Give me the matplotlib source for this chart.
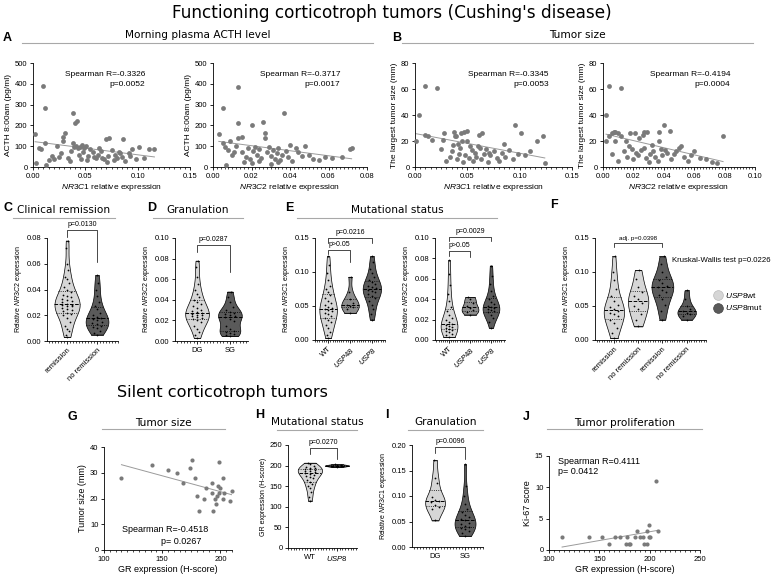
import numpy as np
import matplotlib
matplotlib.use("Agg")
import matplotlib.pyplot as plt
from matplotlib.ticker import MultipleLocator, FormatStrFormatter
from matplotlib.lines import Line2D

plt.rcParams["font.family"] = ["Liberation Sans", "DejaVu Sans"]
plt.rcParams["mathtext.fontset"] = "custom"
plt.rcParams["mathtext.it"] = "Liberation Sans:italic"
plt.rcParams["mathtext.rm"] = "Liberation Sans"

# ---- data ----
# A: NR3C1 / NR3C2 expression vs morning ACTH
a1_x = [0.002, 0.010, 0.011, 0.006, 0.011, 0.029, 0.023, 0.038, 0.040, 0.042, 0.031, 0.029, 0.038,
        0.039, 0.041, 0.043, 0.045, 0.047, 0.049, 0.051, 0.054, 0.070, 0.073, 0.086, 0.095, 0.101, 0.111, 0.116,
        0.008, 0.015, 0.018, 0.020, 0.025, 0.027, 0.033, 0.035, 0.044, 0.046, 0.053, 0.057, 0.060, 0.062, 0.065,
        0.068, 0.072, 0.075, 0.078, 0.080, 0.082, 0.085, 0.088, 0.092, 0.098, 0.003, 0.012, 0.036, 0.058, 0.063,
        0.077, 0.083, 0.093, 0.106, 0.048, 0.052, 0.066, 0.071]
a1_y = [159, 390, 285, 90, 115, 145, 100, 260, 210, 220, 165, 125, 115,
        95, 100, 90, 95, 105, 92, 100, 85, 135, 140, 135, 85, 95, 88, 88,
        85, 35, 55, 40, 50, 65, 45, 30, 60, 40, 55, 70, 45, 60, 75,
        40, 55, 80, 60, 45, 70, 50, 30, 65, 40, 20, 10, 75, 50, 90,
        35, 65, 55, 45, 70, 35, 45, 25]
a2_x = [0.003, 0.005, 0.013, 0.013, 0.020, 0.026, 0.037, 0.013, 0.015, 0.027, 0.027, 0.009, 0.005, 0.040,
        0.043, 0.048, 0.067, 0.071, 0.072, 0.006, 0.008, 0.010, 0.012, 0.015, 0.017, 0.018, 0.019, 0.021, 0.022,
        0.023, 0.024, 0.025, 0.028, 0.029, 0.030, 0.031, 0.032, 0.033, 0.034, 0.035, 0.036, 0.038, 0.039, 0.041,
        0.044, 0.046, 0.050, 0.052, 0.055, 0.058, 0.016, 0.020, 0.024, 0.030, 0.034, 0.011, 0.062, 0.007]
a2_y = [160, 285, 385, 210, 200, 215, 260, 140, 145, 165, 140, 125, 115, 105,
        90, 100, 50, 85, 90, 95, 80, 60, 100, 70, 50, 90, 40, 75, 95,
        60, 85, 45, 70, 95, 55, 80, 40, 65, 90, 35, 60, 75, 50, 30,
        70, 55, 60, 40, 35, 50, 25, 20, 30, 15, 25, 70, 45, 10]

# B: expression vs largest tumor size
b1_x = [0.001, 0.004, 0.010, 0.021, 0.010, 0.012, 0.016, 0.027, 0.028, 0.037, 0.038, 0.039, 0.044, 0.047,
        0.050, 0.045, 0.050, 0.061, 0.064, 0.096, 0.101, 0.117, 0.122, 0.124, 0.030, 0.033, 0.035, 0.040, 0.042,
        0.043, 0.046, 0.048, 0.052, 0.054, 0.055, 0.057, 0.058, 0.060, 0.063, 0.066, 0.068, 0.070, 0.072, 0.075,
        0.078, 0.080, 0.083, 0.086, 0.090, 0.094, 0.098, 0.105, 0.110, 0.025, 0.036, 0.041, 0.053, 0.062, 0.071, 0.085]
b1_y = [20, 40, 62, 61, 25, 24, 21, 21, 26, 27, 24, 24, 26, 27,
        28, 20, 20, 25, 26, 32, 26, 20, 24, 3, 5, 8, 12, 6, 10,
        15, 4, 9, 7, 13, 5, 11, 8, 16, 6, 10, 14, 4, 9, 12,
        7, 5, 11, 8, 13, 6, 10, 9, 12, 14, 17, 18, 16, 15, 11, 18]
b2_x = [0.002, 0.002, 0.004, 0.012, 0.004, 0.006, 0.007, 0.008, 0.010, 0.012, 0.008, 0.015, 0.018, 0.021,
        0.024, 0.026, 0.027, 0.029, 0.037, 0.037, 0.040, 0.044, 0.050, 0.051, 0.079, 0.006, 0.010, 0.014, 0.016,
        0.019, 0.020, 0.022, 0.023, 0.025, 0.028, 0.030, 0.031, 0.033, 0.034, 0.036, 0.038, 0.039, 0.042, 0.045,
        0.047, 0.053, 0.056, 0.060, 0.064, 0.068, 0.072, 0.075, 0.017, 0.027, 0.032, 0.041, 0.048, 0.058]
b2_y = [20, 40, 62, 61, 24, 26, 27, 27, 26, 24, 20, 20, 26, 26,
        22, 25, 27, 27, 27, 20, 32, 28, 15, 16, 24, 10, 5, 12, 8,
        14, 6, 11, 9, 13, 7, 4, 10, 12, 8, 5, 14, 9, 11, 6,
        10, 8, 5, 12, 7, 6, 4, 3, 16, 15, 17, 13, 12, 9]

# C: NR3C2 by clinical remission
c_remission = [0.003, 0.005, 0.008, 0.009, 0.012, 0.015, 0.018, 0.020, 0.021, 0.022, 0.023, 0.024, 0.025,
               0.026, 0.027, 0.027, 0.028, 0.028, 0.029, 0.030, 0.031, 0.032, 0.033, 0.034, 0.035, 0.036,
               0.038, 0.040, 0.042, 0.045, 0.048, 0.050, 0.055, 0.060, 0.072, 0.078]
c_no_remission = [0.005, 0.006, 0.008, 0.010, 0.011, 0.012, 0.013, 0.014, 0.015, 0.016, 0.017, 0.018,
                  0.019, 0.020, 0.022, 0.025, 0.027, 0.030, 0.035, 0.040, 0.045, 0.051]

# D: NR3C2 by granulation
d_dg = [0.003, 0.006, 0.009, 0.012, 0.015, 0.018, 0.020, 0.021, 0.022, 0.023, 0.024, 0.025, 0.025, 0.026,
        0.027, 0.028, 0.029, 0.030, 0.032, 0.034, 0.036, 0.038, 0.040, 0.043, 0.046, 0.050, 0.055, 0.062,
        0.072, 0.078]
d_sg = [0.005, 0.006, 0.007, 0.008, 0.009, 0.010, 0.012, 0.015, 0.019, 0.021, 0.023, 0.024, 0.025, 0.026,
        0.027, 0.028, 0.030, 0.033, 0.038, 0.043, 0.048]

# E: mutational status
e1_wt = [0.003, 0.008, 0.012, 0.018, 0.022, 0.026, 0.030, 0.033, 0.036, 0.038, 0.040, 0.042, 0.044, 0.045,
         0.047, 0.049, 0.052, 0.055, 0.058, 0.062, 0.066, 0.070, 0.075, 0.080, 0.088, 0.098, 0.110, 0.123]
e1_usp48 = [0.040, 0.045, 0.048, 0.050, 0.052, 0.055, 0.060, 0.070, 0.093]
e1_usp8 = [0.030, 0.038, 0.045, 0.052, 0.058, 0.062, 0.065, 0.068, 0.070, 0.072, 0.074, 0.076, 0.078, 0.080,
           0.082, 0.085, 0.088, 0.092, 0.098, 0.105, 0.115, 0.123]
e2_wt = [0.003, 0.005, 0.006, 0.008, 0.009, 0.010, 0.011, 0.012, 0.013, 0.014, 0.015, 0.016, 0.018, 0.020,
         0.022, 0.025, 0.028, 0.032, 0.038, 0.045, 0.054, 0.065, 0.078]
e2_usp48 = [0.025, 0.027, 0.029, 0.031, 0.033, 0.036, 0.040, 0.042]
e2_usp8 = [0.012, 0.018, 0.022, 0.025, 0.027, 0.028, 0.029, 0.030, 0.031, 0.032, 0.033, 0.035, 0.037, 0.040,
           0.043, 0.048, 0.055, 0.063, 0.073]
e_groups = ["WT", r"$\it{USP48}$", r"$\it{USP8}$"]

# F: NR3C1 by USP8 status and remission
f_wt_rem = [0.003, 0.010, 0.018, 0.025, 0.030, 0.035, 0.038, 0.040, 0.042, 0.045, 0.048, 0.052, 0.058,
            0.065, 0.075, 0.088, 0.100, 0.123]
f_wt_norem = [0.020, 0.030, 0.038, 0.045, 0.050, 0.055, 0.060, 0.065, 0.070, 0.078, 0.090, 0.103]
f_mut_rem = [0.030, 0.042, 0.052, 0.060, 0.066, 0.070, 0.074, 0.078, 0.080, 0.084, 0.088, 0.092, 0.100,
             0.112, 0.123]
f_mut_norem = [0.030, 0.035, 0.038, 0.040, 0.042, 0.045, 0.050, 0.060, 0.073]
f_groups = ["remission", "no remission", "remission", "no remission"]

# G: silent tumors, GR vs tumor size
g_x = [115, 141, 155, 163, 168, 174, 176, 178, 180, 182, 186, 188, 193, 193, 194, 195, 196, 198, 199, 199,
       200, 202, 203, 202, 208, 210, 197]
g_y = [28, 33, 31, 30, 26, 32, 35, 28, 21, 15, 20, 24, 26, 22, 15, 20, 18, 25, 34, 22,
       24, 20, 22, 28, 19, 23, 21]

# H: GR by mutational status
h_wt = [115, 125, 135, 145, 150, 155, 160, 165, 170, 172, 175, 178, 180, 182, 185, 187, 188, 190, 191,
        192, 193, 195, 197, 200, 203, 207]
h_usp8 = [197, 198, 199, 200, 200, 201, 202, 203]

# I: NR3C1 by granulation (silent)
i_dg = [0.052, 0.075, 0.078, 0.082, 0.088, 0.090, 0.093, 0.098, 0.125, 0.135, 0.170]
i_sg = [0.022, 0.028, 0.032, 0.035, 0.038, 0.040, 0.042, 0.045, 0.048, 0.052, 0.055, 0.058, 0.062, 0.068,
        0.075, 0.085, 0.100, 0.120, 0.162]

# J: GR vs Ki-67
j_x = [113, 140, 153, 160, 166, 171, 176, 177, 179, 180, 185, 187, 190, 193, 194, 197, 197, 199, 199, 200,
       206, 208]
j_y = [2, 2, 2, 1, 2, 2, 1, 2, 1, 1, 2, 3, 2, 2, 1, 1, 3, 4, 2, 2, 11, 3]

LIGHT = "#d6d6d6"
DARK = "#5a5a5a"
DOT = "#7a7a7a"
W, H = 784, 576

fig = plt.figure(figsize=(7.84, 5.76), dpi=100)


def px_axes(x0, y0, x1, y1):
    ax = fig.add_axes([x0 / W, 1 - y1 / H, (x1 - x0) / W, (y1 - y0) / H])
    for s in ("top", "right"):
        ax.spines[s].set_visible(False)
    for s in ("left", "bottom"):
        ax.spines[s].set_linewidth(0.6)
    ax.tick_params(length=2.5, width=0.6, labelsize=5.5, pad=1.5)
    ax.tick_params(which="minor", length=1.5, width=0.5)
    ax.patch.set_alpha(0)
    return ax


def ftext(x, y, s, **kw):
    fig.text(x / W, 1 - y / H, s, **kw)


def section(x0, x1, y_text, y_line, title, size=7.6):
    ftext((x0 + x1) / 2, y_text, title, ha="center", va="center", fontsize=size, family="DejaVu Sans")
    fig.add_artist(Line2D([x0 / W, x1 / W], [1 - y_line / H] * 2, color="#a8a8a8", lw=0.8))


def panel(x, y, letter):
    ftext(x, y, letter, ha="left", va="center", fontsize=9, fontweight="bold")


def scatter_fit(ax, x, y, s=12):
    x = np.asarray(x, float)
    y = np.asarray(y, float)
    ax.scatter(x, y, s=s, color=DOT, lw=0, zorder=3, clip_on=False)
    k, b = np.polyfit(x, y, 1)
    xx = np.array([x.min(), x.max()])
    ax.plot(xx, k * xx + b, color="#9a9a9a", lw=0.7, zorder=2)


def violin(ax, pos, vals, color, width):
    v = np.asarray(vals, float)
    grid = np.linspace(v.min(), v.max(), 200)
    bw = 0.85 * v.std(ddof=1) * len(v) ** -0.2
    dens = np.exp(-0.5 * ((grid[:, None] - v[None, :]) / bw) ** 2).sum(1)
    dens = dens / dens.max() * width
    ax.fill_betweenx(grid, pos - dens, pos + dens, facecolor=color, edgecolor="black", lw=0.5, zorder=2)
    ax.plot([pos - dens[0], pos + dens[0]], [grid[0]] * 2, color="black", lw=0.5, zorder=2)
    ax.plot([pos - dens[-1], pos + dens[-1]], [grid[-1]] * 2, color="black", lw=0.5, zorder=2)
    q1, med, q3 = np.percentile(v, [25, 50, 75])
    for q, ls, lw in ((q1, ":", 0.6), (med, "--", 0.7), (q3, ":", 0.6)):
        h = np.interp(q, grid, dens)
        ax.plot([pos - h, pos + h], [q, q], ls=ls, lw=lw, color="black", zorder=3)
    offs = np.array([0.0, -1.0, 1.0])[np.arange(len(v)) % 3]
    hw = np.interp(v, grid, dens)
    ax.scatter(pos + offs * hw * 0.4, v, s=1.6, color="black", lw=0, zorder=4)


def bracket(ax, x1, x2, y, l1, l2, text, size=5):
    ax.plot([x1, x1, x2, x2], [l1, y, y, l2], color="black", lw=0.5, clip_on=False)
    ax.annotate(text, ((x1 + x2) / 2, y), xytext=(0, 1.5), textcoords="offset points",
                ha="center", va="bottom", fontsize=size, annotation_clip=False)


def violin_axes(ax, ylim, ystep, xlim, labels, ylabel, rot=45, fmt="%.2f"):
    ax.set_xlim(*xlim)
    ax.set_ylim(*ylim)
    ax.yaxis.set_major_locator(MultipleLocator(ystep))
    ax.yaxis.set_major_formatter(FormatStrFormatter(fmt))
    ax.xaxis.set_minor_locator(MultipleLocator(0.1))
    ax.set_xticks(range(1, len(labels) + 1))
    if rot:
        ax.set_xticklabels(labels, rotation=rot, ha="right", rotation_mode="anchor")
    else:
        ax.set_xticklabels(labels)
    ax.set_ylabel(ylabel, fontsize=5, labelpad=2)


# ---- titles ----
ftext(392, 13, "Functioning corticotroph tumors (Cushing's disease)", ha="center", va="center",
      fontsize=12.2, family="DejaVu Sans")
ftext(222, 393, "Silent corticotroph tumors", ha="center", va="center", fontsize=11.6, family="DejaVu Sans")

panel(3, 38, "A")
section(22, 373, 35, 43, "Morning plasma ACTH level")
panel(392, 38, "B")
section(402, 753, 35, 43, "Tumor size")

# ---- A ----
for (x0, x1), xs, ys, xmax, xstep, gene, r, p, tx in (
        ((33, 190), a1_x, a1_y, 0.15, 0.05, "NR3C1", "-0.3326", "0.0052", 145),
        ((213, 367), a2_x, a2_y, 0.08, 0.02, "NR3C2", "-0.3717", "0.0017", 340)):
    ax = px_axes(x0, 63, x1, 167)
    scatter_fit(ax, xs, ys)
    ax.set_xlim(0, xmax)
    ax.set_ylim(0, 500)
    ax.xaxis.set_major_locator(MultipleLocator(xstep))
    ax.xaxis.set_minor_locator(MultipleLocator(xstep / 10))
    ax.xaxis.set_major_formatter(FormatStrFormatter("%.2f"))
    ax.yaxis.set_major_locator(MultipleLocator(100))
    ax.set_xlabel(r"$\it{%s}$ relative expression" % gene, fontsize=6, labelpad=2)
    ax.set_ylabel("ACTH 8:00am (pg/ml)", fontsize=6, labelpad=2)
    ftext(tx, 74, "Spearman R=%s" % r, ha="right", va="center", fontsize=6)
    ftext(tx, 84, "p=%s" % p, ha="right", va="center", fontsize=6)

# ---- B ----
for (x0, x1), xs, ys, xmax, xstep, gene, r, p, tx in (
        ((415, 572), b1_x, b1_y, 0.15, 0.05, "NR3C1", "-0.3345", "0.0053", 549),
        ((603, 755), b2_x, b2_y, 0.10, 0.02, "NR3C2", "-0.4194", "0.0004", 730)):
    ax = px_axes(x0, 63, x1, 167)
    scatter_fit(ax, xs, ys)
    ax.set_xlim(0, xmax)
    ax.set_ylim(0, 80)
    ax.xaxis.set_major_locator(MultipleLocator(xstep))
    ax.xaxis.set_minor_locator(MultipleLocator(xstep / 10))
    ax.xaxis.set_major_formatter(FormatStrFormatter("%.2f"))
    ax.yaxis.set_major_locator(MultipleLocator(20))
    ax.set_xlabel(r"$\it{%s}$ relative expression" % gene, fontsize=6, labelpad=2)
    ax.set_ylabel("The largest tumor size (mm)", fontsize=6, labelpad=2)
    ftext(tx, 74, "Spearman R=%s" % r, ha="right", va="center", fontsize=6)
    ftext(tx, 84, "p=%s" % p, ha="right", va="center", fontsize=6)

# ---- C ----
panel(3, 208, "C")
section(13, 115, 210, 218, "Clinical remission")
ax = px_axes(47, 238, 118, 341)
violin(ax, 1, c_remission, LIGHT, 0.42)
violin(ax, 2, c_no_remission, DARK, 0.38)
violin_axes(ax, (0, 0.08), 0.02, (0.33, 2.7), ["remission", "no remission"],
            r"Relative $\it{NR3C2}$ expression")
bracket(ax, 1, 2, 0.0862, 0.081, 0.061, "p=0.0130")

# ---- D ----
panel(147, 208, "D")
section(153, 243, 210, 218, "Granulation")
ax = px_axes(175, 238, 248, 341)
violin(ax, 1, d_dg, LIGHT, 0.36)
violin(ax, 2, d_sg, DARK, 0.36)
violin_axes(ax, (0, 0.10), 0.02, (0.33, 2.55), ["DG", "SG"],
            r"Relative $\it{NR3C2}$ expression", rot=0)
bracket(ax, 1, 2, 0.093, 0.086, 0.067, "p=0.0287")

# ---- E ----
panel(285, 208, "E")
section(297, 497, 210, 218, "Mutational status")
ax = px_axes(315, 238, 385, 340)
violin(ax, 1, e1_wt, LIGHT, 0.4)
violin(ax, 2, e1_usp48, "#8c8c8c", 0.4)
violin(ax, 3, e1_usp8, DARK, 0.42)
violin_axes(ax, (0, 0.15), 0.05, (0.4, 3.6), e_groups, r"Relative $\it{NR3C1}$ expression")
bracket(ax, 1, 3, 0.150, 0.143, 0.143, "p=0.0216")
bracket(ax, 1, 2, 0.132, 0.126, 0.115, "p>0.05")

ax = px_axes(435, 238, 505, 340)
violin(ax, 1, e2_wt, LIGHT, 0.4)
violin(ax, 2, e2_usp48, "#8c8c8c", 0.4)
violin(ax, 3, e2_usp8, DARK, 0.4)
violin_axes(ax, (0, 0.10), 0.02, (0.33, 3.67), e_groups, r"Relative $\it{NR3C2}$ expression")
bracket(ax, 1, 3, 0.101, 0.097, 0.097, "p=0.0029")
bracket(ax, 1, 2, 0.087, 0.082, 0.081, "p>0.05")

# ---- F ----
panel(550, 205, "F")
ax = px_axes(595, 238, 706, 340)
violin(ax, 1, f_wt_rem, LIGHT, 0.42)
violin(ax, 2, f_wt_norem, LIGHT, 0.42)
violin(ax, 3, f_mut_rem, DARK, 0.45)
violin(ax, 4, f_mut_norem, DARK, 0.38)
violin_axes(ax, (0, 0.15), 0.05, (0.22, 4.8), f_groups, r"Relative $\it{NR3C1}$ expression")
bracket(ax, 1, 3, 0.143, 0.137, 0.137, "adj. p=0.0398", size=4.5)
ftext(672, 260, "Kruskal-Wallis test p=0.0226", ha="left", va="center", fontsize=5.6)
fig.add_artist(Line2D([718 / W], [1 - 295 / H], marker="o", ms=7, mfc=LIGHT, mec="#bbbbbb", mew=0.5, ls=""))
fig.add_artist(Line2D([718 / W], [1 - 308 / H], marker="o", ms=7, mfc=DARK, mec="#444444", mew=0.5, ls=""))
ftext(725, 295, r"$\it{USP8}$wt", ha="left", va="center", fontsize=6)
ftext(725, 308, r"$\it{USP8}$mut", ha="left", va="center", fontsize=6)

# ---- G ----
panel(68, 417, "G")
section(102, 225, 423, 429, "Tumor size")
ax = px_axes(104, 447, 232, 550)
scatter_fit(ax, g_x, g_y, s=9)
ax.set_xlim(100, 210)
ax.set_ylim(0, 40)
ax.xaxis.set_major_locator(MultipleLocator(50))
ax.xaxis.set_minor_locator(MultipleLocator(5))
ax.yaxis.set_major_locator(MultipleLocator(10))
ax.set_xlabel("GR expression (H-score)", fontsize=6.5, labelpad=2)
ax.set_ylabel("Tumor size (mm)", fontsize=6.5, labelpad=2)
ftext(122, 530, "Spearman R=-0.4518", ha="left", va="center", fontsize=6.5)
ftext(201, 541, "p= 0.0267", ha="right", va="center", fontsize=6.5)

# ---- H ----
panel(255, 415, "H")
section(277, 357, 422, 430, "Mutational status")
ax = px_axes(288, 445, 357, 548)
violin(ax, 1, h_wt, LIGHT, 0.45)
violin(ax, 2, h_usp8, DARK, 0.45)
violin_axes(ax, (0, 250), 50, (0.19, 2.74), ["WT", r"$\it{USP8}$"],
            "GR expression (H-score)", rot=0, fmt="%d")
bracket(ax, 1, 2, 243, 228, 215, "p=0.0270")

# ---- I ----
panel(385, 415, "I")
section(408, 483, 422, 430, "Granulation")
ax = px_axes(412, 445, 483, 547)
violin(ax, 1, i_dg, LIGHT, 0.33)
violin(ax, 2, i_sg, DARK, 0.35)
violin_axes(ax, (0, 0.20), 0.05, (0.23, 2.6), ["DG", "SG"],
            r"Relative $\it{NR3C1}$ expression", rot=0)
bracket(ax, 1, 2, 0.196, 0.185, 0.172, "p=0.0096")

# ---- J ----
panel(523, 417, "J")
section(547, 702, 423, 429, "Tumor proliferation")
ax = px_axes(549, 456, 700, 550)
scatter_fit(ax, j_x, j_y, s=9)
ax.set_xlim(100, 250)
ax.set_ylim(0, 15)
ax.xaxis.set_major_locator(MultipleLocator(50))
ax.xaxis.set_minor_locator(MultipleLocator(5))
ax.yaxis.set_major_locator(MultipleLocator(5))
ax.set_xlabel("GR expression (H-score)", fontsize=6.5, labelpad=2)
ax.set_ylabel("Ki-67 score", fontsize=6.5, labelpad=2)
ftext(558, 461, "Spearman R=0.4111", ha="left", va="center", fontsize=6.5)
ftext(558, 471, "p= 0.0412", ha="left", va="center", fontsize=6.5)

fig.savefig("out.png", dpi=100)
